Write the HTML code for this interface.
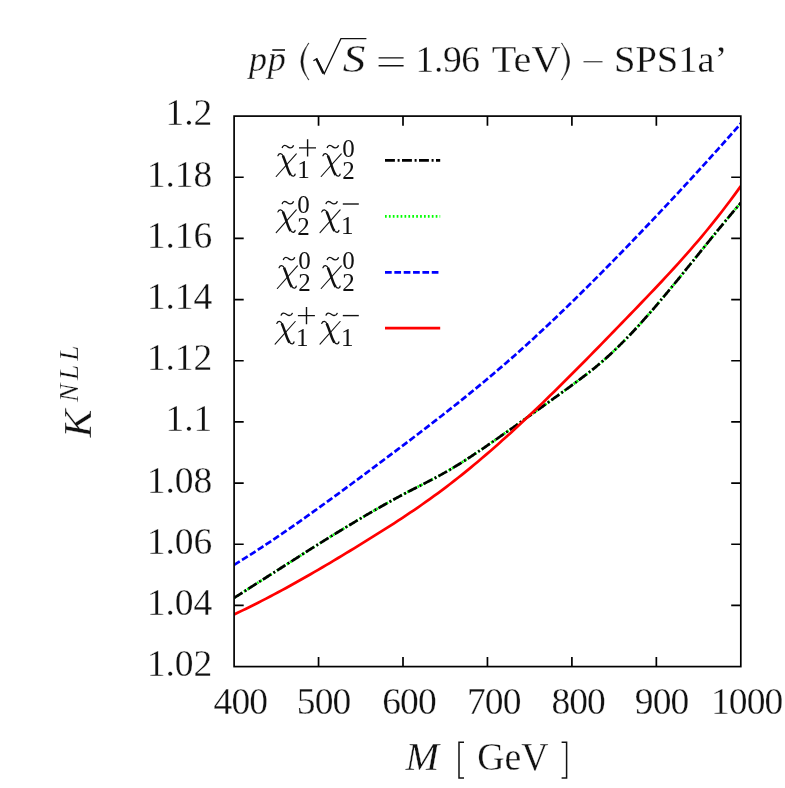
<!DOCTYPE html>
<html><head><meta charset="utf-8"><title>K NLL</title>
<style>
html,body{margin:0;padding:0;background:#fff}
svg{display:block;will-change:transform}
text{font-family:"Liberation Serif",serif;fill:#111;stroke:#fff;stroke-width:.3}
.i{font-style:italic}
</style></head><body>
<svg width="785" height="788" viewBox="0 0 785 788">
<rect width="785" height="788" fill="#fff"/>
<clipPath id="cp"><rect x="234.1" y="116.1" width="506.7" height="550.5"/></clipPath>
<g clip-path="url(#cp)" fill="none" stroke-width="2.7">
<path d="M234.1,597.87 L238.1,595.34 L242.1,592.80 L246.1,590.26 L250.1,587.71 L254.1,585.16 L258.1,582.60 L262.1,580.05 L266.1,577.49 L270.1,574.93 L274.1,572.37 L278.1,569.81 L282.1,567.25 L286.1,564.70 L290.1,562.14 L294.1,559.59 L298.1,557.05 L302.1,554.51 L306.1,551.98 L310.1,549.45 L314.1,546.93 L318.1,544.42 L322.1,541.92 L326.1,539.43 L330.1,536.95 L334.1,534.47 L338.1,532.02 L342.1,529.57 L346.1,527.14 L350.1,524.72 L354.1,522.31 L358.1,519.92 L362.1,517.55 L366.1,515.20 L370.1,512.86 L374.1,510.54 L378.1,508.24 L382.1,505.97 L386.1,503.72 L390.1,501.49 L394.1,499.29 L398.1,497.11 L402.1,494.96 L406.1,492.85 L410.1,490.76 L414.1,488.70 L418.1,486.67 L422.1,484.65 L426.1,482.62 L430.1,480.57 L434.1,478.48 L438.1,476.36 L442.1,474.17 L446.1,471.91 L450.1,469.58 L454.1,467.19 L458.1,464.74 L462.1,462.24 L466.1,459.68 L470.1,457.08 L474.1,454.44 L478.1,451.77 L482.1,449.06 L486.1,446.32 L490.1,443.56 L494.1,440.79 L498.1,438.00 L502.1,435.20 L506.1,432.39 L510.1,429.58 L514.1,426.76 L518.1,423.93 L522.1,421.10 L526.1,418.26 L530.1,415.41 L534.1,412.56 L538.1,409.70 L542.1,406.83 L546.1,403.96 L550.1,401.08 L554.1,398.19 L558.1,395.29 L562.1,392.38 L566.1,389.47 L570.1,386.54 L574.1,383.61 L578.1,380.66 L582.1,377.67 L586.1,374.63 L590.1,371.52 L594.1,368.33 L598.1,365.04 L602.1,361.64 L606.1,358.12 L610.1,354.48 L614.1,350.73 L618.1,346.87 L622.1,342.91 L626.1,338.85 L630.1,334.69 L634.1,330.45 L638.1,326.12 L642.1,321.70 L646.1,317.22 L650.1,312.67 L654.1,308.05 L658.1,303.37 L662.1,298.64 L666.1,293.87 L670.1,289.05 L674.1,284.20 L678.1,279.31 L682.1,274.40 L686.1,269.47 L690.1,264.52 L694.1,259.57 L698.1,254.60 L702.1,249.64 L706.1,244.69 L710.1,239.75 L714.1,234.83 L718.1,229.92 L722.1,225.05 L726.1,220.21 L730.1,215.41 L734.1,210.65 L738.1,205.95 L740.8,202.80" stroke="#00ff00" stroke-dasharray="1.7 2.2"/>
<path d="M234.1,597.87 L238.1,595.34 L242.1,592.80 L246.1,590.26 L250.1,587.71 L254.1,585.16 L258.1,582.60 L262.1,580.05 L266.1,577.49 L270.1,574.93 L274.1,572.37 L278.1,569.81 L282.1,567.25 L286.1,564.70 L290.1,562.14 L294.1,559.59 L298.1,557.05 L302.1,554.51 L306.1,551.98 L310.1,549.45 L314.1,546.93 L318.1,544.42 L322.1,541.92 L326.1,539.43 L330.1,536.95 L334.1,534.47 L338.1,532.02 L342.1,529.57 L346.1,527.14 L350.1,524.72 L354.1,522.31 L358.1,519.92 L362.1,517.55 L366.1,515.20 L370.1,512.86 L374.1,510.54 L378.1,508.24 L382.1,505.97 L386.1,503.72 L390.1,501.49 L394.1,499.29 L398.1,497.11 L402.1,494.96 L406.1,492.85 L410.1,490.76 L414.1,488.70 L418.1,486.67 L422.1,484.65 L426.1,482.62 L430.1,480.57 L434.1,478.48 L438.1,476.36 L442.1,474.17 L446.1,471.91 L450.1,469.58 L454.1,467.19 L458.1,464.74 L462.1,462.24 L466.1,459.68 L470.1,457.08 L474.1,454.44 L478.1,451.77 L482.1,449.06 L486.1,446.32 L490.1,443.56 L494.1,440.79 L498.1,438.00 L502.1,435.20 L506.1,432.39 L510.1,429.58 L514.1,426.76 L518.1,423.93 L522.1,421.10 L526.1,418.26 L530.1,415.41 L534.1,412.56 L538.1,409.70 L542.1,406.83 L546.1,403.96 L550.1,401.08 L554.1,398.19 L558.1,395.29 L562.1,392.38 L566.1,389.47 L570.1,386.54 L574.1,383.61 L578.1,380.66 L582.1,377.67 L586.1,374.63 L590.1,371.52 L594.1,368.33 L598.1,365.04 L602.1,361.64 L606.1,358.12 L610.1,354.48 L614.1,350.73 L618.1,346.87 L622.1,342.91 L626.1,338.85 L630.1,334.69 L634.1,330.45 L638.1,326.12 L642.1,321.70 L646.1,317.22 L650.1,312.67 L654.1,308.05 L658.1,303.37 L662.1,298.64 L666.1,293.87 L670.1,289.05 L674.1,284.20 L678.1,279.31 L682.1,274.40 L686.1,269.47 L690.1,264.52 L694.1,259.57 L698.1,254.60 L702.1,249.64 L706.1,244.69 L710.1,239.75 L714.1,234.83 L718.1,229.92 L722.1,225.05 L726.1,220.21 L730.1,215.41 L734.1,210.65 L738.1,205.95 L740.8,202.80" stroke="#000" stroke-dasharray="9.9 2.7 2 2.4"/>
<path d="M234.1,564.93 L238.1,562.46 L242.1,559.96 L246.1,557.43 L250.1,554.88 L254.1,552.30 L258.1,549.70 L262.1,547.08 L266.1,544.44 L270.1,541.77 L274.1,539.08 L278.1,536.38 L282.1,533.65 L286.1,530.90 L290.1,528.14 L294.1,525.36 L298.1,522.56 L302.1,519.74 L306.1,516.92 L310.1,514.07 L314.1,511.21 L318.1,508.34 L322.1,505.46 L326.1,502.56 L330.1,499.65 L334.1,496.73 L338.1,493.80 L342.1,490.87 L346.1,487.92 L350.1,484.97 L354.1,482.00 L358.1,479.04 L362.1,476.06 L366.1,473.08 L370.1,470.10 L374.1,467.11 L378.1,464.12 L382.1,461.13 L386.1,458.13 L390.1,455.13 L394.1,452.13 L398.1,449.12 L402.1,446.11 L406.1,443.09 L410.1,440.06 L414.1,437.02 L418.1,433.98 L422.1,430.92 L426.1,427.86 L430.1,424.78 L434.1,421.69 L438.1,418.58 L442.1,415.46 L446.1,412.33 L450.1,409.18 L454.1,406.01 L458.1,402.83 L462.1,399.63 L466.1,396.41 L470.1,393.16 L474.1,389.90 L478.1,386.61 L482.1,383.30 L486.1,379.97 L490.1,376.62 L494.1,373.23 L498.1,369.82 L502.1,366.39 L506.1,362.93 L510.1,359.43 L514.1,355.91 L518.1,352.36 L522.1,348.78 L526.1,345.17 L530.1,341.54 L534.1,337.88 L538.1,334.19 L542.1,330.48 L546.1,326.74 L550.1,322.97 L554.1,319.19 L558.1,315.38 L562.1,311.54 L566.1,307.69 L570.1,303.81 L574.1,299.91 L578.1,296.00 L582.1,292.06 L586.1,288.10 L590.1,284.12 L594.1,280.13 L598.1,276.12 L602.1,272.09 L606.1,268.04 L610.1,263.98 L614.1,259.90 L618.1,255.81 L622.1,251.70 L626.1,247.58 L630.1,243.45 L634.1,239.30 L638.1,235.14 L642.1,230.97 L646.1,226.79 L650.1,222.59 L654.1,218.38 L658.1,214.15 L662.1,209.92 L666.1,205.66 L670.1,201.40 L674.1,197.12 L678.1,192.82 L682.1,188.51 L686.1,184.19 L690.1,179.85 L694.1,175.49 L698.1,171.12 L702.1,166.74 L706.1,162.33 L710.1,157.92 L714.1,153.48 L718.1,149.04 L722.1,144.57 L726.1,140.09 L730.1,135.59 L734.1,131.07 L738.1,126.54 L740.8,123.47" stroke="#0000ff" stroke-dasharray="6.7 2.65"/>
<path d="M234.1,614.43 L238.1,612.54 L242.1,610.63 L246.1,608.69 L250.1,606.72 L254.1,604.73 L258.1,602.71 L262.1,600.67 L266.1,598.60 L270.1,596.51 L274.1,594.40 L278.1,592.27 L282.1,590.11 L286.1,587.94 L290.1,585.74 L294.1,583.53 L298.1,581.29 L302.1,579.04 L306.1,576.76 L310.1,574.48 L314.1,572.17 L318.1,569.85 L322.1,567.51 L326.1,565.16 L330.1,562.79 L334.1,560.41 L338.1,558.01 L342.1,555.61 L346.1,553.19 L350.1,550.76 L354.1,548.31 L358.1,545.86 L362.1,543.40 L366.1,540.93 L370.1,538.45 L374.1,535.96 L378.1,533.45 L382.1,530.93 L386.1,528.40 L390.1,525.84 L394.1,523.27 L398.1,520.67 L402.1,518.05 L406.1,515.40 L410.1,512.72 L414.1,510.02 L418.1,507.28 L422.1,504.51 L426.1,501.70 L430.1,498.85 L434.1,495.97 L438.1,493.04 L442.1,490.07 L446.1,487.06 L450.1,484.00 L454.1,480.90 L458.1,477.75 L462.1,474.57 L466.1,471.34 L470.1,468.08 L474.1,464.77 L478.1,461.42 L482.1,458.04 L486.1,454.62 L490.1,451.17 L494.1,447.68 L498.1,444.15 L502.1,440.59 L506.1,437.00 L510.1,433.38 L514.1,429.72 L518.1,426.04 L522.1,422.32 L526.1,418.58 L530.1,414.81 L534.1,411.01 L538.1,407.19 L542.1,403.35 L546.1,399.48 L550.1,395.59 L554.1,391.67 L558.1,387.74 L562.1,383.79 L566.1,379.82 L570.1,375.83 L574.1,371.82 L578.1,367.80 L582.1,363.76 L586.1,359.71 L590.1,355.64 L594.1,351.57 L598.1,347.48 L602.1,343.38 L606.1,339.27 L610.1,335.16 L614.1,331.03 L618.1,326.90 L622.1,322.77 L626.1,318.63 L630.1,314.48 L634.1,310.34 L638.1,306.19 L642.1,302.03 L646.1,297.86 L650.1,293.67 L654.1,289.46 L658.1,285.23 L662.1,280.97 L666.1,276.68 L670.1,272.36 L674.1,268.00 L678.1,263.59 L682.1,259.14 L686.1,254.64 L690.1,250.09 L694.1,245.47 L698.1,240.80 L702.1,236.06 L706.1,231.25 L710.1,226.37 L714.1,221.41 L718.1,216.37 L722.1,211.25 L726.1,206.04 L730.1,200.74 L734.1,195.34 L738.1,189.84 L740.8,186.07" stroke="#ff0000"/>
</g>
<g stroke="#000" stroke-width="1.7" fill="none">
<rect x="234.1" y="116.1" width="506.7" height="550.5"/>
<path d="M234.1,177.27h9.6M740.8,177.27h-9.6M234.1,238.43h9.6M740.8,238.43h-9.6M234.1,299.60h9.6M740.8,299.60h-9.6M234.1,360.77h9.6M740.8,360.77h-9.6M234.1,421.93h9.6M740.8,421.93h-9.6M234.1,483.10h9.6M740.8,483.10h-9.6M234.1,544.27h9.6M740.8,544.27h-9.6M234.1,605.43h9.6M740.8,605.43h-9.6M318.55,666.6v-9.6M318.55,116.1v9.6M403.00,666.6v-9.6M403.00,116.1v9.6M487.45,666.6v-9.6M487.45,116.1v9.6M571.90,666.6v-9.6M571.90,116.1v9.6M656.35,666.6v-9.6M656.35,116.1v9.6"/>
</g>
<g font-size="37.5" text-anchor="end">
<text x="212.3" y="124.9">1.2</text>
<text x="212.3" y="186.7">1.18</text>
<text x="212.3" y="247.8">1.16</text>
<text x="212.3" y="309.0">1.14</text>
<text x="212.3" y="370.2">1.12</text>
<text x="212.3" y="431.3">1.1</text>
<text x="212.3" y="492.5">1.08</text>
<text x="212.3" y="553.7">1.06</text>
<text x="212.3" y="614.8">1.04</text>
<text x="212.3" y="676.0">1.02</text>
</g>
<g font-size="37.5" text-anchor="middle" letter-spacing="-0.9">
<text x="240.4" y="714">400</text>
<text x="323.6" y="714">500</text>
<text x="409.0" y="714">600</text>
<text x="493.8" y="714">700</text>
<text x="578.2" y="714">800</text>
<text x="661.6" y="714">900</text>
<text x="746.7" y="714">1000</text>
</g>
<text transform="translate(405.6,770.4) scale(1.02,1)" font-size="39.5" class="i">M</text>
<path d="M464,742.2H459v35.8h5" stroke="#111" stroke-width="1.5" fill="none"/>
<text transform="translate(477.2,770.4) scale(0.955,1)" font-size="39.5">GeV</text>
<path d="M561.6,742.2h5v35.8h-5" stroke="#111" stroke-width="1.5" fill="none"/>
<g transform="translate(90.5,437.4) rotate(-90)">
<text transform="scale(1.06,1)" x="0" y="0" font-size="39.5" class="i">K</text>
<text x="35.4" y="-12.7" font-size="27.5" class="i" textLength="56.5" lengthAdjust="spacing">NLL</text>
</g>
<text x="249" y="70.9" font-size="36" class="i">p</text>
<text x="267.8" y="70.9" font-size="36" class="i">p</text>
<path d="M272.3,50H285" stroke="#111" stroke-width="1.6"/>
<path d="M309,43.2Q292.8,61.5 309,79.8L308.3,79.8Q297.6,61.5 308.3,43.2Z" fill="#111" stroke="#111" stroke-width="0.5"/>
<path d="M313.4,60.8L316.8,58.6L324.2,73.8L340.9,38.6H366.4" stroke="#111" stroke-width="1.3" fill="none"/><path d="M316.3,58.9L323.4,73.4" stroke="#111" stroke-width="2.3"/>
<text transform="translate(342.8,72) scale(1.13,1)" font-size="40" class="i">S</text>
<path d="M378.6,57.9h25M378.6,65.7h25" stroke="#111" stroke-width="1.4"/>
<text x="415.6" y="72" font-size="37.5" letter-spacing="-0.4">1.96</text>
<text transform="translate(491.8,72) scale(1.045,1)" font-size="38.5">TeV</text>
<path d="M561.4,43.2Q577.6,61.5 561.4,79.8L562.1,79.8Q572.8,61.5 562.1,43.2Z" fill="#111" stroke="#111" stroke-width="0.5"/>
<path d="M583.5,61.7h19" stroke="#555" stroke-width="1.4"/>
<text x="614" y="72" font-size="38.5">SPS1a’</text>
<g transform="translate(276.00,153.3)" stroke="#111" fill="none" stroke-linecap="round"><path d="M1.9,2.5C2.4,1.2 3.4,0.3 4.6,0.4C5.9,0.6 6.8,1.8 7.5,3.4" stroke-width="1.2"/><path d="M6.9,2.4C8.5,6 9.8,10 11.2,14C12.2,17 13.2,19.8 14.7,21.5" stroke-width="2.5" stroke-linecap="butt"/><path d="M14.2,20.6C15.4,22.4 16.8,23.1 17.9,22.7C18.6,22.4 19.0,21.7 19.1,20.9" stroke-width="1.3"/><path d="M20.3,0.5L0.2,23.2" stroke-width="1.1"/></g>
<path d="M282.10,148.0c0.6,-2.2 2.2,-3.2 4.0,-2.2c1.6,0.9 2.4,1.9 4.0,2.0c1.6,0.1 2.9,-0.9 3.5,-2.6" stroke="#111" stroke-width="1.3" fill="none"/>
<text x="297.20" y="178.3" font-size="25" style="stroke:none">1</text>
<path d="M299.00,147.9h17M307.60,139.3v17.3" stroke="#111" stroke-width="1.4"/>
<g transform="translate(321.00,153.3)" stroke="#111" fill="none" stroke-linecap="round"><path d="M1.9,2.5C2.4,1.2 3.4,0.3 4.6,0.4C5.9,0.6 6.8,1.8 7.5,3.4" stroke-width="1.2"/><path d="M6.9,2.4C8.5,6 9.8,10 11.2,14C12.2,17 13.2,19.8 14.7,21.5" stroke-width="2.5" stroke-linecap="butt"/><path d="M14.2,20.6C15.4,22.4 16.8,23.1 17.9,22.7C18.6,22.4 19.0,21.7 19.1,20.9" stroke-width="1.3"/><path d="M20.3,0.5L0.2,23.2" stroke-width="1.1"/></g>
<path d="M327.10,148.0c0.6,-2.2 2.2,-3.2 4.0,-2.2c1.6,0.9 2.4,1.9 4.0,2.0c1.6,0.1 2.9,-0.9 3.5,-2.6" stroke="#111" stroke-width="1.3" fill="none"/>
<text x="342.20" y="179.1" font-size="25" style="stroke:none">2</text>
<text x="342.20" y="157.2" font-size="25" style="stroke:none">0</text>
<g transform="translate(276.00,209.4)" stroke="#111" fill="none" stroke-linecap="round"><path d="M1.9,2.5C2.4,1.2 3.4,0.3 4.6,0.4C5.9,0.6 6.8,1.8 7.5,3.4" stroke-width="1.2"/><path d="M6.9,2.4C8.5,6 9.8,10 11.2,14C12.2,17 13.2,19.8 14.7,21.5" stroke-width="2.5" stroke-linecap="butt"/><path d="M14.2,20.6C15.4,22.4 16.8,23.1 17.9,22.7C18.6,22.4 19.0,21.7 19.1,20.9" stroke-width="1.3"/><path d="M20.3,0.5L0.2,23.2" stroke-width="1.1"/></g>
<path d="M282.10,204.1c0.6,-2.2 2.2,-3.2 4.0,-2.2c1.6,0.9 2.4,1.9 4.0,2.0c1.6,0.1 2.9,-0.9 3.5,-2.6" stroke="#111" stroke-width="1.3" fill="none"/>
<text x="297.20" y="235.2" font-size="25" style="stroke:none">2</text>
<text x="297.20" y="213.3" font-size="25" style="stroke:none">0</text>
<g transform="translate(319.80,209.4)" stroke="#111" fill="none" stroke-linecap="round"><path d="M1.9,2.5C2.4,1.2 3.4,0.3 4.6,0.4C5.9,0.6 6.8,1.8 7.5,3.4" stroke-width="1.2"/><path d="M6.9,2.4C8.5,6 9.8,10 11.2,14C12.2,17 13.2,19.8 14.7,21.5" stroke-width="2.5" stroke-linecap="butt"/><path d="M14.2,20.6C15.4,22.4 16.8,23.1 17.9,22.7C18.6,22.4 19.0,21.7 19.1,20.9" stroke-width="1.3"/><path d="M20.3,0.5L0.2,23.2" stroke-width="1.1"/></g>
<path d="M325.90,204.1c0.6,-2.2 2.2,-3.2 4.0,-2.2c1.6,0.9 2.4,1.9 4.0,2.0c1.6,0.1 2.9,-0.9 3.5,-2.6" stroke="#111" stroke-width="1.3" fill="none"/>
<text x="341.00" y="234.4" font-size="25" style="stroke:none">1</text>
<path d="M342.80,204.0h16" stroke="#111" stroke-width="1.4"/>
<g transform="translate(277.15,265.3)" stroke="#111" fill="none" stroke-linecap="round"><path d="M1.9,2.5C2.4,1.2 3.4,0.3 4.6,0.4C5.9,0.6 6.8,1.8 7.5,3.4" stroke-width="1.2"/><path d="M6.9,2.4C8.5,6 9.8,10 11.2,14C12.2,17 13.2,19.8 14.7,21.5" stroke-width="2.5" stroke-linecap="butt"/><path d="M14.2,20.6C15.4,22.4 16.8,23.1 17.9,22.7C18.6,22.4 19.0,21.7 19.1,20.9" stroke-width="1.3"/><path d="M20.3,0.5L0.2,23.2" stroke-width="1.1"/></g>
<path d="M283.25,260.0c0.6,-2.2 2.2,-3.2 4.0,-2.2c1.6,0.9 2.4,1.9 4.0,2.0c1.6,0.1 2.9,-0.9 3.5,-2.6" stroke="#111" stroke-width="1.3" fill="none"/>
<text x="298.35" y="291.1" font-size="25" style="stroke:none">2</text>
<text x="298.35" y="269.2" font-size="25" style="stroke:none">0</text>
<g transform="translate(321.00,265.3)" stroke="#111" fill="none" stroke-linecap="round"><path d="M1.9,2.5C2.4,1.2 3.4,0.3 4.6,0.4C5.9,0.6 6.8,1.8 7.5,3.4" stroke-width="1.2"/><path d="M6.9,2.4C8.5,6 9.8,10 11.2,14C12.2,17 13.2,19.8 14.7,21.5" stroke-width="2.5" stroke-linecap="butt"/><path d="M14.2,20.6C15.4,22.4 16.8,23.1 17.9,22.7C18.6,22.4 19.0,21.7 19.1,20.9" stroke-width="1.3"/><path d="M20.3,0.5L0.2,23.2" stroke-width="1.1"/></g>
<path d="M327.10,260.0c0.6,-2.2 2.2,-3.2 4.0,-2.2c1.6,0.9 2.4,1.9 4.0,2.0c1.6,0.1 2.9,-0.9 3.5,-2.6" stroke="#111" stroke-width="1.3" fill="none"/>
<text x="342.20" y="291.1" font-size="25" style="stroke:none">2</text>
<text x="342.20" y="269.2" font-size="25" style="stroke:none">0</text>
<g transform="translate(274.90,321.0)" stroke="#111" fill="none" stroke-linecap="round"><path d="M1.9,2.5C2.4,1.2 3.4,0.3 4.6,0.4C5.9,0.6 6.8,1.8 7.5,3.4" stroke-width="1.2"/><path d="M6.9,2.4C8.5,6 9.8,10 11.2,14C12.2,17 13.2,19.8 14.7,21.5" stroke-width="2.5" stroke-linecap="butt"/><path d="M14.2,20.6C15.4,22.4 16.8,23.1 17.9,22.7C18.6,22.4 19.0,21.7 19.1,20.9" stroke-width="1.3"/><path d="M20.3,0.5L0.2,23.2" stroke-width="1.1"/></g>
<path d="M281.00,315.7c0.6,-2.2 2.2,-3.2 4.0,-2.2c1.6,0.9 2.4,1.9 4.0,2.0c1.6,0.1 2.9,-0.9 3.5,-2.6" stroke="#111" stroke-width="1.3" fill="none"/>
<text x="296.10" y="346.0" font-size="25" style="stroke:none">1</text>
<path d="M297.90,315.6h17M306.50,307.0v17.3" stroke="#111" stroke-width="1.4"/>
<g transform="translate(319.80,321.0)" stroke="#111" fill="none" stroke-linecap="round"><path d="M1.9,2.5C2.4,1.2 3.4,0.3 4.6,0.4C5.9,0.6 6.8,1.8 7.5,3.4" stroke-width="1.2"/><path d="M6.9,2.4C8.5,6 9.8,10 11.2,14C12.2,17 13.2,19.8 14.7,21.5" stroke-width="2.5" stroke-linecap="butt"/><path d="M14.2,20.6C15.4,22.4 16.8,23.1 17.9,22.7C18.6,22.4 19.0,21.7 19.1,20.9" stroke-width="1.3"/><path d="M20.3,0.5L0.2,23.2" stroke-width="1.1"/></g>
<path d="M325.90,315.7c0.6,-2.2 2.2,-3.2 4.0,-2.2c1.6,0.9 2.4,1.9 4.0,2.0c1.6,0.1 2.9,-0.9 3.5,-2.6" stroke="#111" stroke-width="1.3" fill="none"/>
<text x="341.00" y="346.0" font-size="25" style="stroke:none">1</text>
<path d="M342.80,315.6h16" stroke="#111" stroke-width="1.4"/>
<path d="M385,160.4H440.2" stroke="#000" stroke-width="2.7" stroke-dasharray="9.9 2.7 2 2.4"/>
<path d="M385,216.3H440.2" stroke="#00ff00" stroke-width="2.7" stroke-dasharray="1.7 2.2"/>
<path d="M385,272.3H440.2" stroke="#0000ff" stroke-width="2.7" stroke-dasharray="6.7 2.65"/>
<path d="M385,328.2H440.2" stroke="#ff0000" stroke-width="2.7"/>
</svg>
</body></html>
